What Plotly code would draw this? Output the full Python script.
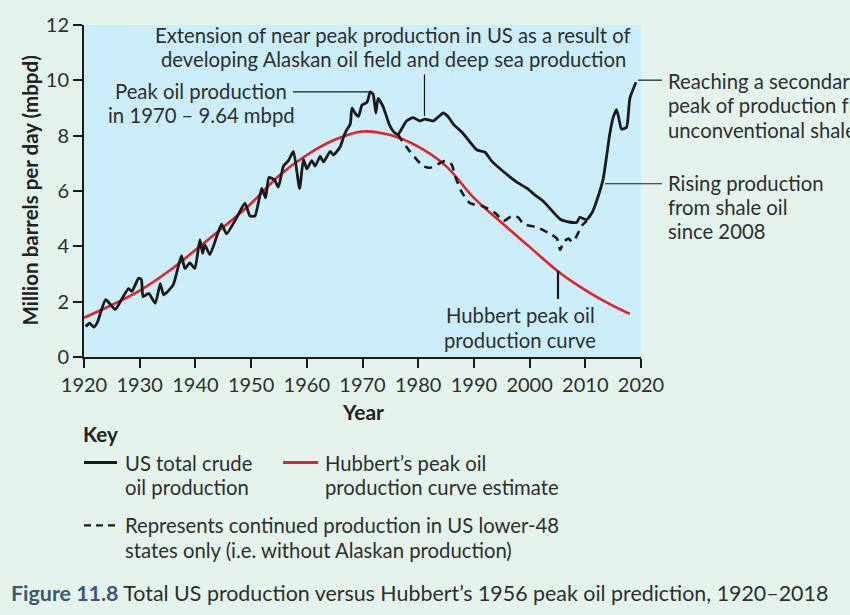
import plotly.graph_objects as go

# ---------------- data ----------------
us_years = [1920.3, 1921.0, 1921.8, 1922.4, 1923.9, 1925.6, 1926.8, 1928.0, 1928.6, 1929.8,
            1930.3, 1930.6, 1931.6, 1932.8, 1933.7, 1934.3, 1936.0, 1937.5, 1938.1, 1939.0,
            1939.9, 1940.8, 1941.3, 1941.7, 1942.6, 1944.7, 1945.6, 1947.3, 1948.9, 1949.8,
            1950.7, 1951.9, 1952.6, 1953.2, 1954.2, 1954.9, 1955.8, 1956.7, 1957.6, 1958.7,
            1959.4, 1960.0, 1960.9, 1961.5, 1962.4, 1963.0, 1964.2, 1964.8, 1966.0, 1966.6,
            1967.0, 1967.8, 1968.1, 1968.7, 1969.3, 1969.9, 1970.8, 1971.4, 1971.9, 1972.4,
            1972.8, 1973.7, 1974.9, 1975.8, 1976.4, 1977.9, 1979.1, 1980.3, 1981.2, 1982.7,
            1984.5, 1985.3, 1986.3, 1988.1, 1990.5, 1992.0, 1993.2, 1995.5, 1997.7, 1999.5,
            2001.0, 2002.5, 2005.5, 2007.3, 2008.5, 2009.0, 2010.2, 2011.2, 2012.0, 2013.2,
            2014.4, 2015.0, 2015.6, 2016.0, 2016.5, 2017.4, 2018.0, 2019.1]
us_total = [1.10, 1.22, 1.08, 1.25, 2.07, 1.72, 2.10, 2.47, 2.37, 2.85,
            2.80, 2.18, 2.30, 1.95, 2.65, 2.25, 2.60, 3.66, 3.20, 3.40,
            3.20, 4.24, 3.75, 4.05, 3.70, 4.80, 4.45, 5.00, 5.56, 5.10,
            5.10, 6.09, 5.75, 6.49, 6.40, 6.14, 6.90, 7.10, 7.43, 6.09,
            7.14, 6.80, 7.10, 6.90, 7.25, 7.05, 7.43, 7.30, 7.60, 7.95,
            8.15, 8.42, 9.00, 8.80, 8.70, 9.10, 9.20, 9.58, 9.50, 8.82,
            9.35, 9.05, 8.36, 8.10, 8.05, 8.53, 8.65, 8.53, 8.60, 8.53,
            8.82, 8.70, 8.42, 8.07, 7.49, 7.40, 7.08, 6.67, 6.32, 6.10,
            5.85, 5.62, 4.98, 4.87, 4.87, 5.05, 4.96, 5.21, 5.62, 6.43,
            8.07, 8.65, 8.94, 8.65, 8.24, 8.30, 9.35, 9.93]

lower48_years = [1976.4, 1977.0, 1978.5, 1980.9, 1982.1, 1984.8, 1986.0, 1986.6, 1987.8, 1989.3,
                 1991.7, 1993.8, 1995.3, 1996.8, 1998.0, 1998.9, 2001.3, 2003.7, 2004.9, 2005.5,
                 2006.1, 2007.0, 2007.6, 2008.2, 2009.4, 2010.3]
lower48 = [8.05, 7.84, 7.43, 6.90, 6.84, 7.08, 6.96, 6.55, 5.97, 5.56,
           5.44, 5.21, 4.92, 5.09, 5.04, 4.80, 4.69, 4.45, 4.28, 3.87,
           4.16, 4.28, 4.16, 4.28, 4.75, 4.92]

hubbert_years = [1920, 1925, 1930, 1935, 1940, 1945, 1950, 1955, 1960, 1965, 1970,
                 1975, 1980, 1985, 1990, 1995, 2000, 2005, 2010, 2015, 2018]
hubbert = [1.42, 1.88, 2.40, 3.07, 3.87, 4.69, 5.55, 6.55, 7.30, 7.85, 8.15,
           8.02, 7.60, 6.90, 5.75, 4.85, 3.98, 3.11, 2.42, 1.85, 1.56]

x_ticks = [1920, 1930, 1940, 1950, 1960, 1970, 1980, 1990, 2000, 2010, 2020]
y_ticks = [0, 2, 4, 6, 8, 10, 12]

# ---------------- styling ----------------
W, H = 850, 615
L, R, T, B = 84, 641, 14, 357
FONT = "Lato"
TXT = "#2e2e2e"
PAGE_BG = "#e4f4ec"
PLOT_BG = "#cbeefa"
RED = "#e42228"
FS = 20.3
LH = 25


def px(x):
    return (x - L) / (R - L)


def py(y):
    return (B - y) / (B - T)


fig = go.Figure()
fig.add_trace(go.Scatter(x=hubbert_years, y=hubbert, mode="lines",
                         line=dict(color=RED, width=2.6, shape="spline", smoothing=1.0),
                         hoverinfo="skip", showlegend=False))
fig.add_trace(go.Scatter(x=lower48_years, y=lower48, mode="lines",
                         line=dict(color="#1a1a1a", width=2.6, dash="8px,6px", shape="spline", smoothing=0.6),
                         hoverinfo="skip", showlegend=False))
fig.add_trace(go.Scatter(x=us_years, y=us_total, mode="lines",
                         line=dict(color="#1a1a1a", width=2.8, shape="spline", smoothing=0.5),
                         hoverinfo="skip", showlegend=False))

annotations = []
shapes = []


def text(x, y, s, size=FS, anchor="center", color=TXT, bold=False, angle=0):
    if bold:
        s = "<b>" + s + "</b>"
    annotations.append(dict(x=px(x), y=py(y), xref="paper", yref="paper", text=s,
                            showarrow=False, xanchor=anchor, yanchor="middle",
                            textangle=angle, font=dict(family=FONT, size=size, color=color)))


def lines(x, y0, rows, anchor="center", size=FS):
    for i, r in enumerate(rows):
        text(x, y0 + i * LH, r, size=size, anchor=anchor)


def seg(x0, y0, x1, y1, width=1.2, color="#1a1a1a", dash=None):
    line = dict(color=color, width=width)
    if dash:
        line["dash"] = dash
    shapes.append(dict(type="line", xref="paper", yref="paper", x0=px(x0), y0=py(y0),
                       x1=px(x1), y1=py(y1), line=line, layer="above"))


# annotations in the chart
lines(393, 24, ["Extension of near peak production in US as a result of",
                "developing Alaskan oil field and deep sea production"])
seg(424.5, 65, 424.5, 108)
lines(201, 82, ["Peak oil production", "in 1970 – 9.64 mbpd"])
seg(293, 83, 370, 83)
lines(666, 72, ["Reaching a secondary", "peak of production from", "unconventional shale oil"], anchor="left")
seg(638, 71, 662, 71)
lines(666, 177, ["Rising production", "from shale oil", "since 2008"], anchor="left")
seg(605, 178, 662, 178)
lines(520, 314, ["Hubbert peak oil", "production curve"])
seg(558, 268, 558, 297, width=2.2)

# axis titles
text(30, 185, "Million barrels per day (mbpd)", size=20.5, bold=True, angle=-90, color="#222")
text(363, 413, "Year", size=21, bold=True, color="#222")

# key
text(81, 437, "Key", size=20.5, bold=True, anchor="left", color="#222")
seg(84, 466, 117, 466, width=2.8)
lines(123, 466, ["US total crude", "oil production"], anchor="left")
seg(283, 466, 318, 466, width=2.8, color=RED)
lines(323, 466, ["Hubbert’s peak oil", "production curve estimate"], anchor="left")
seg(84, 531, 118, 531, width=2.4, dash="7px,5px")
lines(123, 531, ["Represents continued production in US lower-48",
                 "states only (i.e. without Alaskan production)"], anchor="left")

# caption
text(9, 601, "<b><span style='color:#3d5872'>Figure 11.8</span></b> Total US production versus Hubbert’s 1956 peak oil prediction, 1920–2018",
     size=21.4, anchor="left")

fig.update_layout(
    width=W, height=H,
    margin=dict(l=L, r=W - R, t=T, b=H - B, pad=0),
    paper_bgcolor=PAGE_BG, plot_bgcolor=PLOT_BG,
    font=dict(family=FONT, size=18, color=TXT),
    showlegend=False,
    annotations=annotations, shapes=shapes,
    xaxis=dict(range=[1920, 2020], tickvals=x_ticks, ticktext=[str(v) for v in x_ticks],
               showgrid=False, zeroline=False, showline=True, linecolor="#1a1a1a", linewidth=2,
               ticks="outside", ticklen=9, tickwidth=1.5, tickcolor="#1a1a1a",
               tickfont=dict(family=FONT, size=20, color=TXT), fixedrange=True),
    yaxis=dict(range=[0, 12], tickvals=y_ticks, ticktext=[str(v) for v in y_ticks],
               showgrid=False, zeroline=False, showline=True, linecolor="#1a1a1a", linewidth=2,
               ticks="outside", ticklen=9, tickwidth=1.5, tickcolor="#1a1a1a",
               tickfont=dict(family=FONT, size=20, color=TXT), fixedrange=True),
)

fig.write_html("out.html", config={"displayModeBar": False})
